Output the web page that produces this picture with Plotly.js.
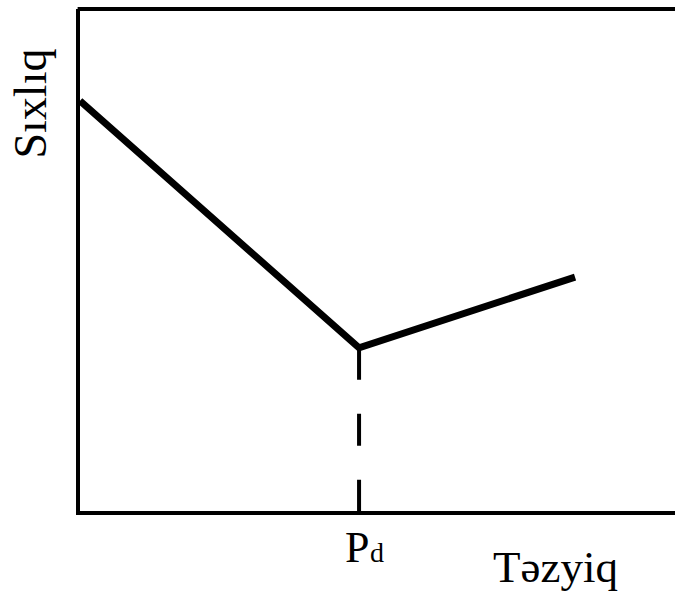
<!DOCTYPE html>
<html>
<head>
<meta charset="utf-8">
<script src="https://cdn.plot.ly/plotly-3.0.1.min.js"></script>
<style>html,body{margin:0;padding:0;background:#fff;}#chart{width:675px;height:591px;}</style>
</head>
<body>
<div id="chart"></div>
<script>
// Schematic: density vs pressure, minimum at dew-point pressure Pd
const pressure = [0, 4.69, 8.32];
const density = [8.17, 3.25, 4.66];
const pdValue = 4.69;
const pdDensity = 3.25;
const xTitle = "Təzyiq";
const yTitle = "Sıxlıq";
const pdMain = "P";
const pdSub = "d";

const traces = [
  {x: pressure, y: density, mode: "lines", type: "scatter", line: {color: "#000", width: 7}},
  {x: [pdValue, pdValue], y: [pdDensity, 0], mode: "lines", type: "scatter",
   line: {color: "#000", width: 4, dash: "32px,34px"}}
];

const fam = "Liberation Serif";
const layout = {
  width: 675, height: 591,
  margin: {l: 80, r: 0, t: 9, b: 80, pad: 0},
  showlegend: false,
  xaxis: {range: [0, 10], showgrid: false, zeroline: false, showticklabels: false, ticks: "",
          showline: true, linecolor: "#000", linewidth: 4},
  yaxis: {range: [0, 10], showgrid: false, zeroline: false, showticklabels: false, ticks: "",
          showline: true, linecolor: "#000", linewidth: 4},
  shapes: [
    {type: "line", xref: "paper", yref: "paper", x0: -0.004, x1: 1, y0: 1, y1: 1,
     line: {color: "#000", width: 4}, layer: "above"}
  ],
  annotations: [
    {text: pdMain, x: pdValue, xref: "x", y: 0, yref: "paper", xanchor: "left", yanchor: "top",
     xshift: -16, yshift: -10, showarrow: false, font: {family: fam, size: 44, color: "#000"}},
    {text: pdSub, x: pdValue, xref: "x", y: 0, yref: "paper", xanchor: "left", yanchor: "top",
     xshift: 9, yshift: -24, showarrow: false, font: {family: fam, size: 28, color: "#000"}},
    {text: xTitle, x: (555.5 - 80) / 595, xref: "paper", y: 0, yref: "paper", xanchor: "center", yanchor: "top",
     yshift: -29, showarrow: false, font: {family: fam, size: 45, color: "#000"}},
    {text: yTitle, x: (29.5 - 80) / 595, xref: "paper", y: (511 - 104) / 502, yref: "paper", textangle: -90,
     xanchor: "center", yanchor: "middle", showarrow: false, font: {family: fam, size: 46, color: "#000"}}
  ]
};

Plotly.newPlot("chart", traces, layout, {displayModeBar: false, staticPlot: true});
</script>
</body>
</html>
